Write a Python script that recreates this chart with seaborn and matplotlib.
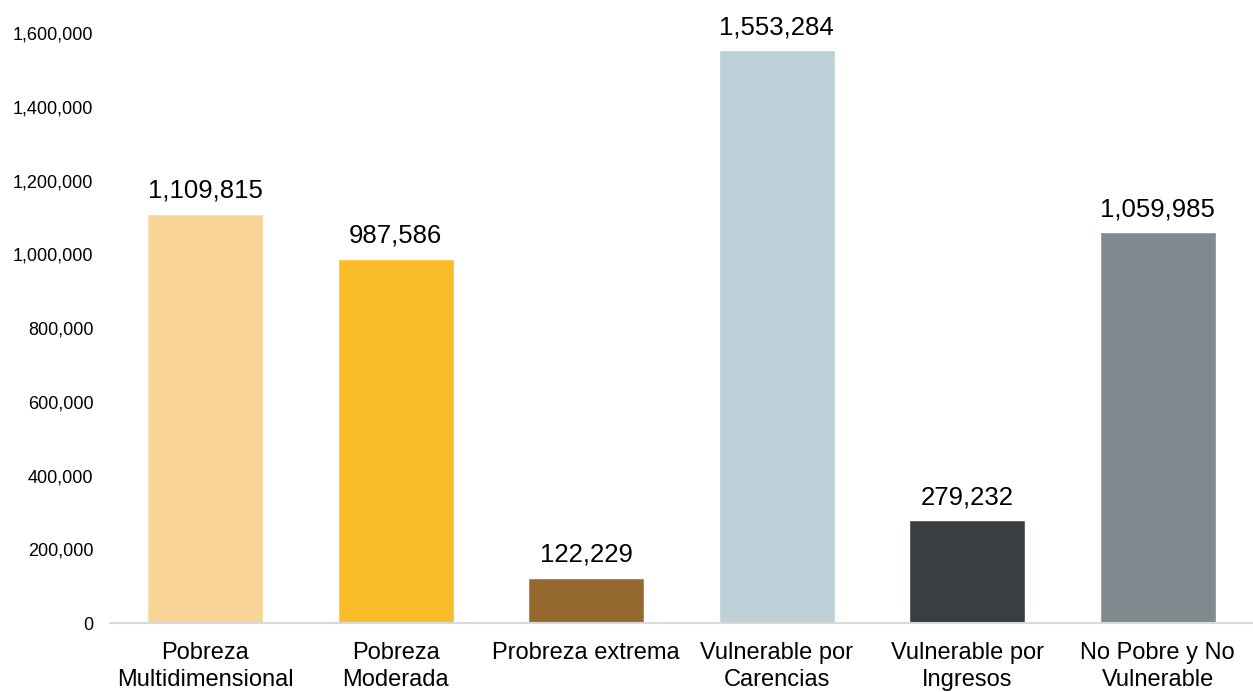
import matplotlib.pyplot as plt
import pandas as pd
import seaborn as sns
from matplotlib.ticker import FuncFormatter

categories = [
    "Pobreza\nMultidimensional",
    "Pobreza\nModerada",
    "Probreza extrema",
    "Vulnerable por\nCarencias",
    "Vulnerable por\nIngresos",
    "No Pobre y No\nVulnerable",
]
values = [1109815, 987586, 122229, 1553284, 279232, 1059985]
colors = ["#F8D597", "#FBBC2A", "#95692E", "#BDD0D7", "#3A3E42", "#7F898E"]
yticks = [0, 200000, 400000, 600000, 800000, 1000000, 1200000, 1400000, 1600000]

sns.set_theme(style="white")
plt.rcParams["font.family"] = ["Liberation Sans", "DejaVu Sans"]

df = pd.DataFrame({"categoria": categories, "valor": values})

fig = plt.figure(figsize=(12.53, 6.92), dpi=100)
ax = fig.add_axes([0.0878, 0.0997, 0.9122, 0.8523])

sns.barplot(data=df, x="categoria", y="valor", hue="categoria",
            palette=colors, width=0.61, legend=False, ax=ax, saturation=1)

for i, v in enumerate(values):
    ax.text(i, v + 30000, f"{v:,}", ha="center", va="bottom", fontsize=18.5, color="#000000")

ax.set_ylim(0, 1600000)
ax.set_xlim(-0.5, len(categories) - 0.5)
ax.set_yticks(yticks)
ax.yaxis.set_major_formatter(FuncFormatter(lambda x, _: f"{int(x):,}"))
ax.tick_params(axis="y", length=0, pad=12, labelsize=13, colors="#000000")
ax.tick_params(axis="x", length=0, pad=14, labelsize=17, colors="#000000")
for lbl in ax.get_xticklabels():
    lbl.set_linespacing(1.25)
ax.set_xlabel("")
ax.set_ylabel("")

for s in ["top", "right", "left"]:
    ax.spines[s].set_visible(False)
ax.spines["bottom"].set_color("#D9D9D9")
ax.spines["bottom"].set_linewidth(1.5)
ax.grid(False)

fig.savefig("out.png", dpi=100, facecolor="white")
